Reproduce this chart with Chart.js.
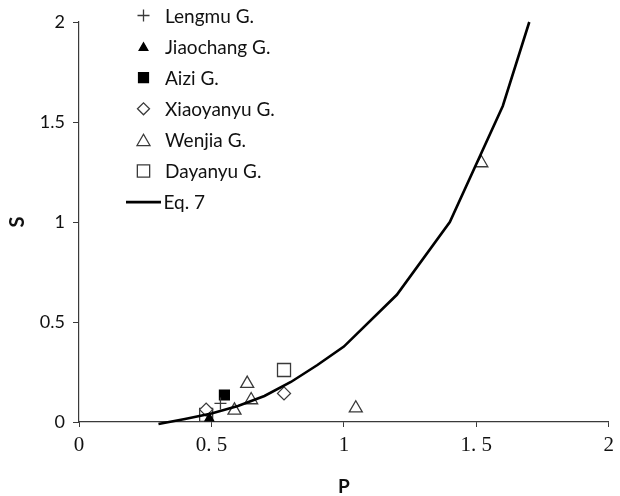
<!DOCTYPE html>
<html>
<head>
<meta charset="utf-8">
<script src="https://cdn.jsdelivr.net/npm/chart.js@4/dist/chart.umd.min.js"></script>
<style>
  html, body { margin: 0; padding: 0; background: #fff; }
  #wrap { width: 620px; height: 496px; }
</style>
</head>
<body>
<div id="wrap"><canvas id="c" width="620" height="496"></canvas></div>
<script>
// values (P on x, S on y)
const P_LENGMU = [0.534];
const S_LENGMU = [0.093];
const P_JIAOCHANG = [0.492];
const S_JIAOCHANG = [0.018];
const P_AIZI = [0.549];
const S_AIZI = [0.135];
const P_XIAOYANYU = [0.48, 0.774];
const S_XIAOYANYU = [0.062, 0.143];
const P_WENJIA = [0.587, 0.635, 0.65, 1.045, 1.519];
const S_WENJIA = [0.058, 0.192, 0.11, 0.069, 1.295];
const P_DAYANYU = [0.48, 0.774];
const S_DAYANYU = [0.035, 0.26];
const P_EQ7 = [0.3, 0.4, 0.5, 0.6, 0.7, 0.8, 0.9, 1.0, 1.2, 1.4, 1.6, 1.7];
const S_EQ7 = [-0.01, 0.015, 0.042, 0.08, 0.13, 0.2, 0.285, 0.377, 0.636, 1.0, 1.58, 2.0];
const TICKS = [0, 0.5, 1, 1.5, 2];
const X_LABELS = ["0", "0. 5", "1", "1. 5", "2"];
const Y_LABELS = ["0", "0.5", "1", "1.5", "2"];

const pts = (xs, ys) => xs.map((x, i) => ({ x, y: ys[i] }));
const GRIS = "#3a3a3a";

const seriler = [
  { label: "Lengmu G.", data: pts(P_LENGMU, S_LENGMU), pointStyle: "cross", pointRadius: 6,
    borderColor: GRIS, backgroundColor: GRIS, legR: 6 },
  { label: "Jiaochang G.", data: pts(P_JIAOCHANG, S_JIAOCHANG), pointStyle: "triangle", pointRadius: 5,
    borderColor: "#000", backgroundColor: "#000", legR: 5 },
  { label: "Aizi G.", data: pts(P_AIZI, S_AIZI), pointStyle: "rect", pointRadius: 7,
    borderColor: "#000", backgroundColor: "#000", legR: 7 },
  { label: "Xiaoyanyu G.", data: pts(P_XIAOYANYU, S_XIAOYANYU), pointStyle: "rectRot", pointRadius: 6.5,
    borderColor: GRIS, backgroundColor: "#fff", legR: 6 },
  { label: "Wenjia G.", data: pts(P_WENJIA, S_WENJIA), pointStyle: "triangle", pointRadius: 7.5,
    borderColor: GRIS, backgroundColor: "#fff", legR: 7.5 },
  { label: "Dayanyu G.", data: pts(P_DAYANYU, S_DAYANYU), pointStyle: "rect", pointRadius: 9.2,
    borderColor: GRIS, backgroundColor: "#fff", legR: 8.7 },
].map(s => ({ ...s, showLine: false, pointBorderWidth: 1.3, borderWidth: 1.3, order: 1 }));

const egri = {
  label: "Eq. 7", data: pts(P_EQ7, S_EQ7), showLine: true, pointRadius: 0,
  borderColor: "#000", backgroundColor: "#000", borderWidth: 2.6, tension: 0,
  clip: false, order: -1, isLine: true,
};

// legend inside the plot, drawn by hand at the reference positions
const lejant = {
  id: "lejant",
  afterDraw(chart) {
    const ctx = chart.ctx;
    const all = chart.data.datasets;
    ctx.save();
    ctx.font = "19px Lato";
    ctx.textBaseline = "middle";
    all.forEach((ds, i) => {
      const y = 15.5 + i * 31.1;
      if (ds.isLine) {
        ctx.strokeStyle = ds.borderColor;
        ctx.lineWidth = ds.borderWidth;
        ctx.beginPath();
        ctx.moveTo(126, y);
        ctx.lineTo(161, y);
        ctx.stroke();
      } else {
        ctx.strokeStyle = ds.borderColor;
        ctx.fillStyle = ds.backgroundColor;
        ctx.lineWidth = 1.3;
        Chart.helpers.drawPoint(ctx, { pointStyle: ds.pointStyle, radius: ds.legR, rotation: 0, borderWidth: 1.3 }, 143.5, y + (ds.pointStyle === "triangle" ? ds.legR / 4 : 0));
      }
      ctx.fillStyle = "#111";
      ctx.fillText(ds.label, ds.isLine ? 163.5 : 165, y + 1);
    });
    ctx.restore();
  }
};

new Chart(document.getElementById("c"), {
  type: "scatter",
  data: { datasets: [...seriler, egri] },
  options: {
    responsive: false,
    animation: false,
    layout: { padding: { top: 22, right: 10, left: 0, bottom: 0 } },
    plugins: { legend: { display: false }, tooltip: { enabled: false } },
    scales: {
      x: {
        type: "linear", min: 0, max: 2,
        afterBuildTicks: s => { s.ticks = TICKS.map(v => ({ value: v })); },
        afterFit: s => { s.height = 74; },
        ticks: {
          callback: (v) => X_LABELS[TICKS.indexOf(v)] ?? "",
          font: { family: "'Liberation Serif'", size: 21 }, color: "#111", padding: 6,
          maxRotation: 0,
        },
        grid: { drawOnChartArea: false, drawTicks: true, tickLength: 5, color: GRIS },
        border: { display: true, color: GRIS, width: 1.2 },
        title: { display: true, text: "P", font: { family: "Lato", size: 19, weight: "bold", lineHeight: 1 },
          color: "#111", padding: { top: 0, bottom: 0 } },
      },
      y: {
        type: "linear", min: 0, max: 2,
        afterBuildTicks: s => { s.ticks = TICKS.map(v => ({ value: v })); },
        afterFit: s => { s.width = 79; },
        ticks: {
          callback: (v) => Y_LABELS[TICKS.indexOf(v)] ?? "",
          font: { family: "Lato", size: 18 }, color: "#111", padding: 8,
        },
        grid: { drawOnChartArea: false, drawTicks: true, tickLength: 6, color: GRIS },
        border: { display: true, color: GRIS, width: 1.2 },
        title: { display: true, text: "S", font: { family: "Lato", size: 20, weight: "bold", lineHeight: 1 },
          color: "#111", padding: { top: 8, bottom: 0 } },
      },
    },
  },
  plugins: [lejant],
});
</script>
</body>
</html>
